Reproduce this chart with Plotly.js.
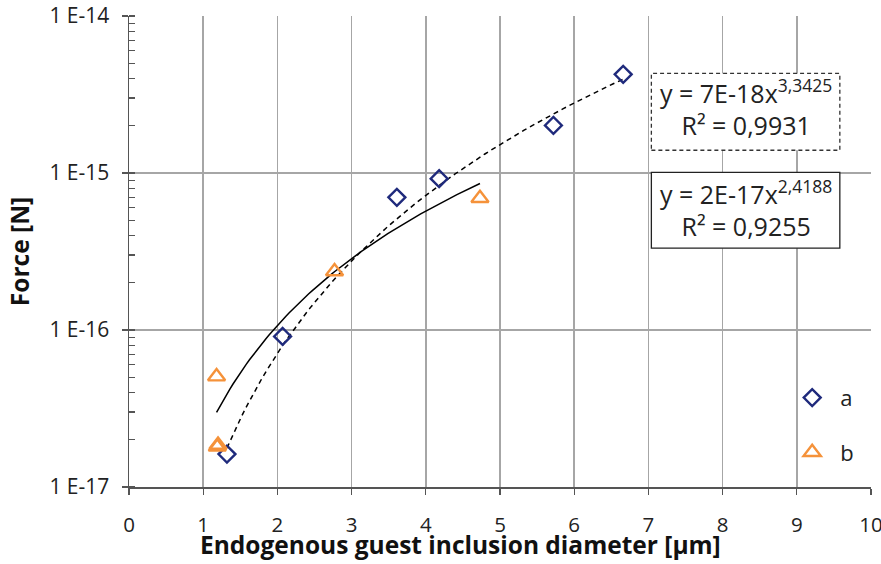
<!DOCTYPE html>
<html>
<head>
<meta charset="utf-8">
<script src="https://cdn.plot.ly/plotly-3.0.1.min.js"></script>
<style>html,body{margin:0;padding:0;background:#fff;}#chart{width:881px;height:564px;}</style>
</head>
<body>
<div id="chart"></div>
<script>
// Series a (diamonds)
const aX = [1.32, 2.07, 3.61, 4.18, 5.72, 6.66];
const aY = [1.62e-17, 9.1e-17, 7.0e-16, 9.2e-16, 2.01e-15, 4.25e-15];
// Series b (triangles)
const bX = [1.18, 1.19, 1.20, 2.77, 4.73];
const bY = [5.05e-17, 1.80e-17, 1.85e-17, 2.36e-16, 6.9e-16];
// Power trendlines as displayed: y = c * x^p
const fitA = {c: 7e-18, p: 3.3425, r2: "0,9931", pTxt: "3,3425", cTxt: "7E-18"};
const fitB = {c: 2e-17, p: 2.4188, r2: "0,9255", pTxt: "2,4188", cTxt: "2E-17"};
const xTicks = [0,1,2,3,4,5,6,7,8,9,10];
const yTickVals = [1e-17, 1e-16, 1e-15, 1e-14];
const yTickText = ["1 E-17", "1 E-16", "1 E-15", "1 E-14"];
const xTitle = "Endogenous guest inclusion diameter [µm]";
const yTitle = "Force [N]";

function trend(fit, xs) {
  const xmin = Math.min(...xs), xmax = Math.max(...xs);
  const X = [], Y = [];
  const n = 80;
  for (let i = 0; i <= n; i++) {
    const x = xmin + (xmax - xmin) * i / n;
    X.push(x); Y.push(fit.c * Math.pow(x, fit.p));
  }
  return {X, Y};
}
const tA = trend(fitA, aX);
const tB = trend(fitB, bX);

const font = "Open Sans";
const traces = [
  {x: tA.X, y: tA.Y, mode: 'lines', line: {color: '#000', width: 1.5, dash: '5px,4px'}, showlegend: false, hoverinfo: 'skip'},
  {x: tB.X, y: tB.Y, mode: 'lines', line: {color: '#000', width: 1.5}, showlegend: false, hoverinfo: 'skip'},
  {x: aX, y: aY, mode: 'markers', name: 'a', legendgroup: 'a',
   marker: {symbol: 'diamond-open', size: 13, color: '#1f2a7c', line: {width: 2.4, color: '#1f2a7c'}}},
  {x: bX, y: bY, mode: 'markers', name: 'b', legendgroup: 'b',
   marker: {symbol: 'triangle-up-open', size: 15, color: '#f5923a', line: {width: 2.4, color: '#f5923a'}}}
];

const layout = {
  width: 881, height: 564,
  margin: {l: 128.5, r: 10, t: 15.7, b: 77.3},
  paper_bgcolor: '#fff', plot_bgcolor: '#fff',
  font: {family: font, color: '#111', size: 21},
  xaxis: {
    range: [0, 10], tickvals: xTicks, ticktext: xTicks.map(String),
    showgrid: true, gridcolor: '#a6a6a6', gridwidth: 1.5,
    showline: true, linecolor: '#555', linewidth: 1.5,
    ticks: 'outside', ticklen: 6, tickcolor: '#555', tickwidth: 1.2,
    ticklabelstandoff: 13, ticklabeloverflow: 'allow',
    zeroline: false, tickfont: {size: 20.5, family: font, color: '#222'}
  },
  yaxis: {
    type: 'log', range: [-17, -14], tickvals: yTickVals, ticktext: yTickText,
    showgrid: true, gridcolor: '#a6a6a6', gridwidth: 1.5,
    showline: true, linecolor: '#555', linewidth: 1.5,
    ticks: 'outside', ticklen: 6, tickcolor: '#555', tickwidth: 1.2,
    ticklabelstandoff: 8,
    minor: {ticks: 'inside', ticklen: 6, tickcolor: '#555', tickwidth: 1.2, dtick: 'D1', showgrid: false},
    zeroline: false, tickfont: {size: 21, family: font, color: '#222'}
  },
  legend: {x: 0.883, y: 0.234, xanchor: 'left', yanchor: 'top', bgcolor: 'rgba(0,0,0,0)',
           font: {size: 22, family: font, color: '#222'}, traceorder: 'grouped', tracegroupgap: 23, itemwidth: 46},
  shapes: [
    {type: 'rect', xref: 'paper', yref: 'paper', x0: 0.704, x1: 0.958, y0: 0.715, y1: 0.878,
     line: {color: '#333', width: 1.3, dash: '4px,3px'}, fillcolor: '#fff', layer: 'above'},
    {type: 'rect', xref: 'paper', yref: 'paper', x0: 0.704, x1: 0.958, y0: 0.507, y1: 0.668,
     line: {color: '#222', width: 1.3}, fillcolor: '#fff', layer: 'above'}
  ],
  annotations: [
    {xref: 'paper', yref: 'paper', x: 0.831, y: 0.805, xanchor: 'center', yanchor: 'middle', showarrow: false,
     text: 'y = ' + fitA.cTxt + 'x<sup>' + fitA.pTxt + '</sup><br>R² = ' + fitA.r2,
     font: {size: 25, family: font, color: '#222'}, align: 'center'},
    {xref: 'paper', yref: 'paper', x: 0.831, y: 0.592, xanchor: 'center', yanchor: 'middle', showarrow: false,
     text: 'y = ' + fitB.cTxt + 'x<sup>' + fitB.pTxt + '</sup><br>R² = ' + fitB.r2,
     font: {size: 25, family: font, color: '#222'}, align: 'center'},
    {xref: 'paper', yref: 'paper', x: 0.4465, y: -0.1215, xanchor: 'center', yanchor: 'middle', showarrow: false,
     text: xTitle, font: {size: 24.5, family: font, color: '#111', weight: 'bold'}},
    {xref: 'paper', yref: 'paper', x: -0.1474, y: 0.5, xanchor: 'center', yanchor: 'middle', showarrow: false,
     textangle: -90, text: yTitle, font: {size: 24.5, family: font, color: '#111', weight: 'bold'}}
  ]
};

Plotly.newPlot('chart', traces, layout, {displayModeBar: false, staticPlot: true});
</script>
</body>
</html>
